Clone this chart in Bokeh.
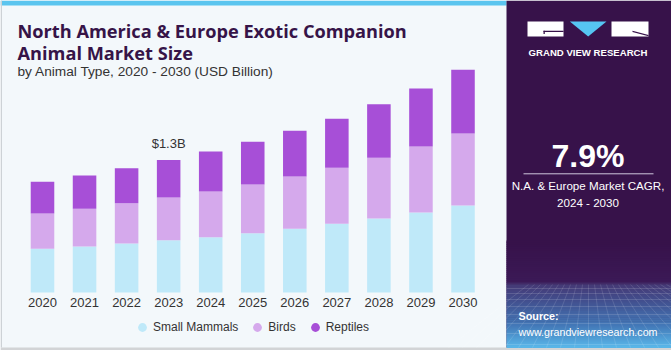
from bokeh.plotting import figure
from bokeh.models import Range1d, Legend, LegendItem, ColumnDataSource
from bokeh.core.properties import value
from bokeh.embed import file_html
from bokeh.resources import INLINE

# ---------------- data ----------------
years = ["2020", "2021", "2022", "2023", "2024", "2025", "2026", "2027", "2028", "2029", "2030"]
small_mammals = [0.428, 0.451, 0.480, 0.512, 0.542, 0.581, 0.624, 0.673, 0.725, 0.784, 0.852]
birds = [0.346, 0.369, 0.395, 0.418, 0.448, 0.477, 0.512, 0.549, 0.595, 0.647, 0.705]
reptiles = [0.311, 0.326, 0.343, 0.369, 0.392, 0.418, 0.448, 0.480, 0.525, 0.568, 0.624]
series_names = ["Small Mammals", "Birds", "Reptiles"]
series_colors = ["#bfe9f9", "#d5a9ec", "#a74fd7"]
callout_year = "2023"
callout_text = "$1.3B"
title_lines = ["North America & Europe Exotic Companion", "Animal Market Size"]
subtitle = "by Animal Type, 2020 - 2030 (USD Billion)"
cagr_value = "7.9%"
cagr_lines = ["N.A. & Europe Market CAGR,", "2024 - 2030"]
brand = "GRAND VIEW RESEARCH"
source_lines = ["Source:", "www.grandviewresearch.com"]

# ---------------- layout constants ----------------
W, H = 671, 350
BASE = 292            # pixel row of the bar baseline
X0, DX = 42.0, 42.05  # pixel centre of first bar, bar pitch
BG = "#f3f8fb"
PANEL = "#37124a"
TXT = "#333333"
TITLE = "#361448"
FONT = "Liberation Sans"
TFONT = "Open Sans"

px_per_unit = 132.7 / 1.3
xs = -X0 / DX
p = figure(width=W, height=H,
           x_range=Range1d(xs, xs + W / DX),
           y_range=Range1d(-(H - BASE) / px_per_unit, BASE / px_per_unit),
           output_backend="svg", toolbar_location=None,
           x_axis_location=None, y_axis_location=None, min_border=0,
           background_fill_color=BG, border_fill_color=BG, outline_line_color=None)
p.xgrid.visible = False
p.ygrid.visible = False
p.extra_x_ranges = {"px": Range1d(0, W)}
p.extra_y_ranges = {"py": Range1d(H, 0)}
PX = dict(x_range_name="px", y_range_name="py")


def rect(x0, y0, x1, y1, color, alpha=1.0):
    p.quad(left=[x0], right=[x1], top=[y0], bottom=[y1], fill_color=color, fill_alpha=alpha,
           line_color=None, **PX)


def ptext(x, y, t, size, color=TXT, bold=False, align="left", baseline="middle", font=FONT):
    p.text(x=[x], y=[y], text=[t], text_font=value(font), text_font_size=f"{size}px",
           text_font_style="bold" if bold else "normal", text_color=color,
           text_align=align, text_baseline=baseline, **PX)


def hex2rgb(h):
    h = h.lstrip("#")
    return tuple(int(h[i:i + 2], 16) for i in (0, 2, 4))


# ---- card decorations ----
rect(0, 0, 506, 5, "#5bc5ef")
rect(0, 0, 1.5, 347, "#cdd2d6")
rect(0, 347, W, H, "#d2d4d6")

# ---- right panel ----
PL = 506
rect(PL, 0, W, 347, PANEL)
stops = [(240, "#37124a"), (282, "#3c1a57"), (284, "#463a76"), (300, "#424f8e"),
         (325, "#4479b8"), (347, "#59b8ea")]
gl, gr, gt, gb, gc = [], [], [], [], []
for (ya, ca), (yb, cb) in zip(stops[:-1], stops[1:]):
    n = max(1, int((yb - ya) / 2))
    ra, rb = hex2rgb(ca), hex2rgb(cb)
    for k in range(n):
        t = (k + 0.5) / n
        gc.append("#%02x%02x%02x" % tuple(int(ra[j] + (rb[j] - ra[j]) * t) for j in range(3)))
        gl.append(PL)
        gr.append(W)
        gt.append(ya + (yb - ya) * k / n)
        gb.append(ya + (yb - ya) * (k + 1) / n + 0.5)
p.quad(left=gl, right=gr, top=gt, bottom=gb, fill_color=gc, line_color=None, **PX)

# faint grid texture in the panel foot
for yy in [288, 293, 299, 306, 314, 323, 333, 344]:
    p.line([PL, W], [yy, yy], line_color="white", line_alpha=0.14, line_width=1, **PX)
for k in range(-10, 18):
    p.line([588 + k * 6, 588 + k * 14], [284, 347], line_color="white", line_alpha=0.12,
           line_width=1, **PX)

# logo
p.quad(left=[527, 611], right=[563, 648], top=[21, 21], bottom=[36, 36],
       fill_color="white", line_color=None, **PX)
p.quad(left=[543, 543], right=[563, 544.3], top=[30.3, 30.3], bottom=[31.6, 33.5],
       fill_color=PANEL, line_color=None, **PX)
p.patch([569.3, 606, 587.7], [21, 21, 36], fill_color="#56c5f2", line_color=None, **PX)
p.patch([632, 648, 648, 632], [30.2, 34.6, 35.8, 31.4], fill_color=PANEL, line_color=None, **PX)
ptext(587.5, 52, brand, 9.6, "white", bold=True, align="center")

# CAGR
ptext(587.5, 155, cagr_value, 32, "white", bold=True, align="center")
p.line([523, 653], [173.3, 173.3], line_color="#cfc6dc", line_width=1, **PX)
ptext(587.5, 185, cagr_lines[0], 11.6, "white", align="center")
ptext(587.5, 202, cagr_lines[1], 11.6, "white", align="center")

# source
ptext(518, 315, source_lines[0], 10.8, "white", bold=True)
ptext(518, 331, source_lines[1], 10.7, "white")

# titles
ptext(17, 30, title_lines[0], 18.2, TITLE, bold=True, font=TFONT)
ptext(17, 52, title_lines[1], 18.2, TITLE, bold=True, font=TFONT)
ptext(17, 71, subtitle, 13.7, TXT)

# ---------------- bars ----------------
idx = list(range(len(years)))
src = ColumnDataSource(dict(x=idx, year=years, mammals=small_mammals, birds=birds,
                            reptiles=reptiles, zero=[0] * len(years)))
p.vbar_stack(["mammals", "birds", "reptiles"], x="x", width=0.56, color=series_colors,
             line_color=None, source=src)

# category labels under the bars (x axis)
p.text(x="x", y="zero", text="year", source=src, y_offset=10, text_align="center",
       text_baseline="middle", text_font=value(FONT), text_font_size="13px", text_color=TXT)

# callout
ci = years.index(callout_year)
ctot = small_mammals[ci] + birds[ci] + reptiles[ci]
csrc = ColumnDataSource(dict(x=[idx[ci]], y=[ctot], t=[callout_text]))
p.text(x="x", y="y", text="t", source=csrc, text_align="center", text_baseline="alphabetic",
       y_offset=-16, text_font=value(FONT), text_font_size="13px", text_color=TXT)

# ---------------- legend ----------------
nan = float("nan")
items = []
for name, col in zip(series_names, series_colors):
    r = p.scatter(x=[nan], y=[nan], marker="circle", size=9, fill_color=col, line_color=None)
    items.append(LegendItem(label=name, renderers=[r]))
leg = Legend(items=items, orientation="horizontal", location=(131, H - 338),
             glyph_width=22, glyph_height=22, label_height=14, label_standoff=0, spacing=8,
             padding=0, margin=0, border_line_color=None, background_fill_alpha=0,
             label_text_font=FONT, label_text_font_size="12px", label_text_color=TXT)
p.add_layout(leg, "center")

open("out.html", "w").write(file_html(p, INLINE))
